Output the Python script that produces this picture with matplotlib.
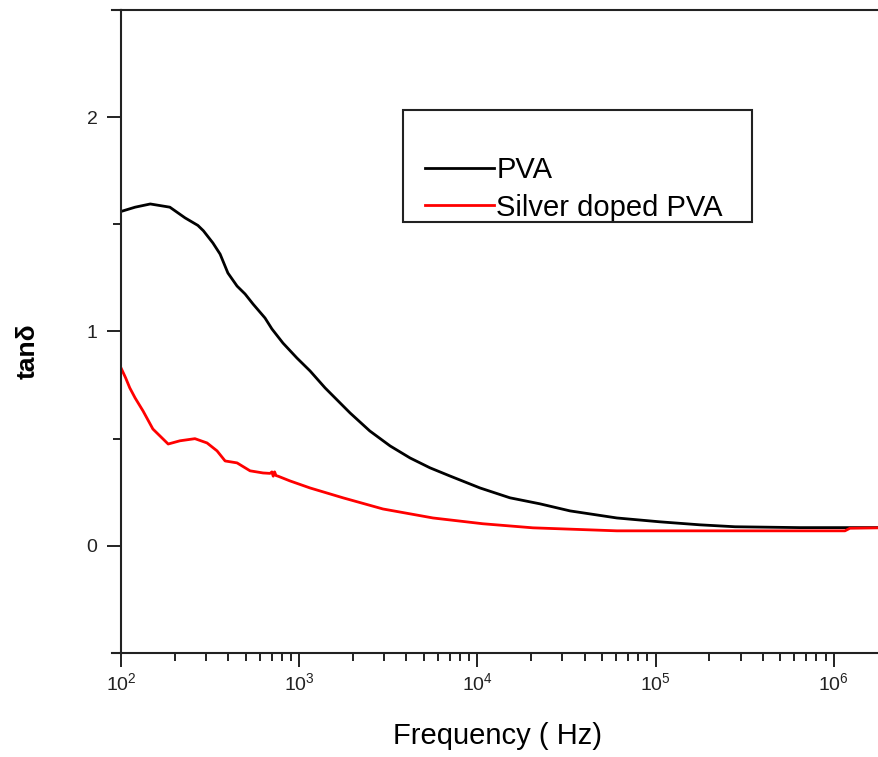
import matplotlib
matplotlib.use("Agg")
import matplotlib.pyplot as plt
from matplotlib.patches import Rectangle
from matplotlib.lines import Line2D
from matplotlib.ticker import LogLocator, MultipleLocator

plt.rcParams['font.family'] = ['Liberation Sans', 'DejaVu Sans']

# PVA (black)
pva_freq = [100, 120, 146, 188, 229, 270, 290, 328, 360, 398, 448, 497, 551, 643,
            703, 811, 972, 1151, 1397, 1930, 2490, 3240, 4190, 5420, 7010, 10350,
            15240, 22440, 33110, 60670, 105900, 177500, 279300, 645700, 1795000]
pva_tan = [1.56, 1.58, 1.595, 1.58, 1.53, 1.495, 1.47, 1.413, 1.361, 1.273, 1.212,
           1.175, 1.128, 1.063, 1.012, 0.946, 0.876, 0.816, 0.737, 0.62, 0.536,
           0.466, 0.41, 0.364, 0.326, 0.27, 0.224, 0.196, 0.163, 0.13, 0.112,
           0.098, 0.089, 0.085, 0.085]

# Silver doped PVA (red)
ag_freq = [100, 106, 112, 120, 133, 151, 184, 214, 260, 304, 346, 384, 448, 530,
           627, 686, 703, 715, 728, 741, 761, 887, 1151, 1762, 2951, 5636, 10740,
           20510, 60670, 177500, 1156000, 1233000, 1795000]
ag_tan = [0.83, 0.785, 0.737, 0.69, 0.629, 0.545, 0.475, 0.49, 0.50, 0.48, 0.443,
          0.396, 0.387, 0.35, 0.34, 0.338, 0.345, 0.325, 0.345, 0.328, 0.325, 0.303,
          0.27, 0.224, 0.172, 0.13, 0.103, 0.084, 0.07, 0.07, 0.07, 0.082, 0.084]

labels = ["PVA", "Silver doped PVA"]
x_label = "Frequency ( Hz)"
y_label = "tanδ"
y_ticks = [0, 1, 2]

fig = plt.figure(figsize=(8.79, 7.57), dpi=100)
ax = fig.add_axes([121/879, 1-653/757, 1-121/879, (653-10)/757])

ax.plot(pva_freq, pva_tan, color='black', lw=2.0, label=labels[0])
ax.plot(ag_freq, ag_tan, color='#ff0000', lw=2.0, label=labels[1])

ax.set_xscale('log')
ax.set_xlim(100, 1795000)
ax.set_ylim(-0.5, 2.5)
ax.set_yticks(y_ticks)
ax.yaxis.set_minor_locator(MultipleLocator(0.5))
ax.xaxis.set_minor_locator(LogLocator(base=10, subs=range(2, 10), numticks=20))

spc = '#222222'
for s in ['left', 'bottom', 'top']:
    ax.spines[s].set_linewidth(1.5)
    ax.spines[s].set_color(spc)
ax.spines['right'].set_visible(False)

ax.tick_params(which='major', direction='out', length=10, width=1.4, color=spc,
               labelsize=14, pad=4, top=False, right=False, labelcolor='#222222')
ax.tick_params(which='minor', direction='out', length=5.5, width=1.4, color=spc,
               top=False, right=False)
ax.tick_params(axis='y', which='major', pad=7)

ax.set_xlabel(x_label, fontsize=21)
ax.xaxis.set_label_coords(0.497, -0.108)
ax.set_ylabel(y_label, fontsize=19, fontweight='bold')
ax.yaxis.set_label_coords(-0.108, 0.47)

# spine extensions (Origin style)
fig.add_artist(Line2D([112/879, 121/879], [1-10/757, 1-10/757], color=spc, lw=1.5))
fig.add_artist(Line2D([112/879, 121/879], [1-653/757, 1-653/757], color=spc, lw=1.5))

# legend box
fig.add_artist(Rectangle((403/879, 1-222/757), 349/879, 112/757, fill=False,
                         edgecolor='#222222', lw=1.5, transform=fig.transFigure))
leg = ax.legend(loc='upper left', bbox_to_anchor=(425/879, 1-156/757),
                bbox_transform=fig.transFigure, frameon=False, fontsize=21,
                handlelength=2.35, handletextpad=0.1, labelspacing=0.33,
                borderpad=0, borderaxespad=0)

fig.savefig("out.png", dpi=100)
